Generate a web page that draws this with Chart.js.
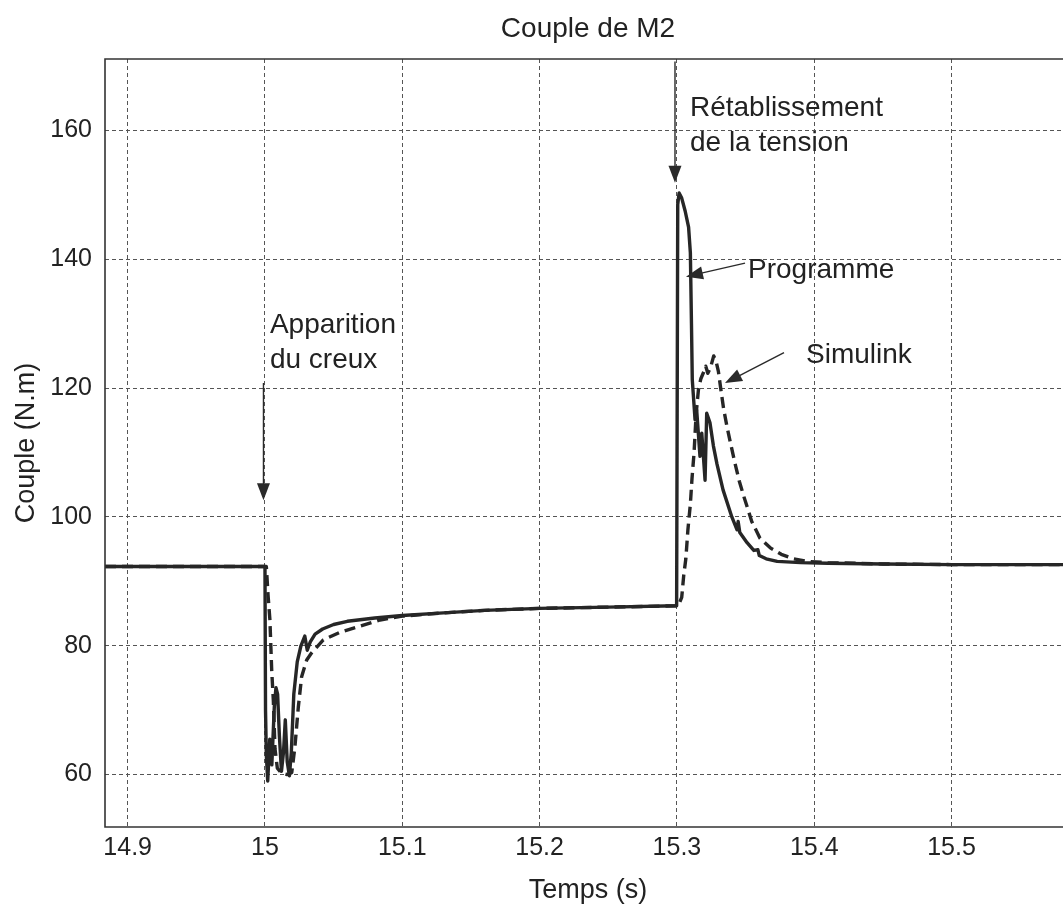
<!DOCTYPE html>
<html lang="fr">
<head>
<meta charset="utf-8">
<title>Couple de M2</title>
<script src="https://cdn.jsdelivr.net/npm/chart.js@4.4.1/dist/chart.umd.min.js"></script>
<style>
  html, body { margin: 0; padding: 0; background: #fff; overflow: hidden; }
  canvas { display: block; }
</style>
</head>
<body>
<canvas id="couple" width="1176" height="907"></canvas>
<script>
// Axis ticks
const xTicks = [14.9, 15.0, 15.1, 15.2, 15.3, 15.4, 15.5];
const yTicks = [60, 80, 100, 120, 140, 160];

// Couple de M2 calculé par le programme (s, N.m)
const progTime = [
  14.8835, 15.0000, 15.0004, 15.0010, 15.0020, 15.0035, 15.0050, 15.0068, 15.0080, 15.0092,
  15.0105, 15.0120, 15.0135, 15.0148, 15.0162, 15.0178, 15.0192, 15.0210, 15.0235, 15.0262,
  15.0290, 15.0308, 15.0330, 15.0365, 15.0420, 15.0500, 15.0600, 15.0800, 15.1000, 15.1300,
  15.1600, 15.2000, 15.2500, 15.2998, 15.3006, 15.3016, 15.3035, 15.3060, 15.3085, 15.3098,
  15.3106, 15.3112, 15.3132, 15.3144, 15.3168, 15.3181, 15.3205, 15.3217, 15.3241, 15.3266,
  15.3292, 15.3336, 15.3400, 15.3438, 15.3446, 15.3458, 15.3511, 15.3560, 15.3590, 15.3600,
  15.3650, 15.3730, 15.3900, 15.4100, 15.4500, 15.5000, 15.5870
];
const progTorque = [
  92.3, 92.3, 70.0, 63.0, 59.0, 65.5, 61.5, 70.5, 73.5, 72.5,
  66.0, 60.5, 63.5, 68.5, 62.0, 59.8, 63.5, 72.5, 77.5, 80.0,
  81.5, 79.3, 80.6, 81.8, 82.6, 83.3, 83.8, 84.3, 84.7, 85.1,
  85.5, 85.8, 86.0, 86.2, 148.5, 150.3, 149.5, 147.5, 145.0, 141.0,
  130.0, 121.3, 115.1, 116.6, 109.4, 113.0, 105.7, 116.1, 114.6, 111.0,
  108.2, 104.2, 100.0, 98.0, 99.3, 97.6, 96.0, 94.8, 94.9, 94.0,
  93.5, 93.1, 92.9, 92.8, 92.7, 92.6, 92.6
];

// Couple de M2 obtenu sous Simulink (s, N.m)
const simTime = [
  14.8835, 15.0010, 15.0022, 15.0036, 15.0049, 15.0061, 15.0073, 15.0090, 15.0120, 15.0160,
  15.0195, 15.0218, 15.0243, 15.0267, 15.0304, 15.0340, 15.0425, 15.0546, 15.0668, 15.0838,
  15.1000, 15.1300, 15.1600, 15.2000, 15.2500, 15.3010, 15.3035, 15.3050, 15.3065, 15.3080,
  15.3098, 15.3110, 15.3125, 15.3140, 15.3157, 15.3175, 15.3195, 15.3210, 15.3225, 15.3245,
  15.3268, 15.3285, 15.3302, 15.3322, 15.3340, 15.3365, 15.3390, 15.3420, 15.3455, 15.3490,
  15.3545, 15.3605, 15.3680, 15.3760, 15.3850, 15.3950, 15.4100, 15.4500, 15.5000, 15.5870
];
const simTorque = [
  92.3, 92.3, 88.0, 84.0, 76.2, 71.5, 64.0, 61.0, 60.2, 60.0,
  60.3, 64.3, 70.5, 75.2, 77.8, 78.9, 80.9, 82.1, 82.9, 84.0,
  84.6, 85.1, 85.5, 85.8, 86.0, 86.2, 87.5, 91.0, 93.5, 98.0,
  102.0, 106.0, 110.0, 116.0, 119.8, 121.5, 122.5, 123.4, 122.3, 123.2,
  125.0, 124.2, 122.6, 119.5, 116.8, 114.0, 111.5, 108.6, 105.5, 103.0,
  99.3, 96.7, 95.2, 94.2, 93.5, 93.1, 92.9, 92.7, 92.6, 92.6
];

// Annotation texts, anchored in data units (left edge, first baseline)
const notes = [
  { lines: ['Apparition', 'du creux'], t: 15.0036, v: 128.6 },
  { lines: ['Rétablissement', 'de la tension'], t: 15.3095, v: 162.2 },
  { lines: ['Programme'], t: 15.3518, v: 137.1 },
  { lines: ['Simulink'], t: 15.3940, v: 123.9 }
];
// Arrows, from tail to tip, in data units
const arrows = [
  { from: [14.9989, 120.8], to: [14.9989, 102.6] },
  { from: [15.2986, 170.7], to: [15.2986, 151.9] },
  { from: [15.3496, 139.4], to: [15.3066, 137.3] },
  { from: [15.3780, 125.5], to: [15.3350, 120.8] }
];

const FONT = '"Liberation Sans", Arial, Helvetica, sans-serif';
const INK = '#222';
const LINE = '#262626';

const toPoints = (ts, vs) => ts.map((t, i) => ({ x: t, y: vs[i] }));

function drawArrow(ctx, x0, y0, x1, y1) {
  const a = Math.atan2(y1 - y0, x1 - x0);
  const L = 17, W = 6.5;
  const c = Math.cos(a), s = Math.sin(a);
  ctx.beginPath();
  ctx.moveTo(x0, y0);
  ctx.lineTo(x1 - L * 0.8 * c, y1 - L * 0.8 * s);
  ctx.stroke();
  ctx.beginPath();
  ctx.moveTo(x1, y1);
  ctx.lineTo(x1 - L * c + W * s, y1 - L * s - W * c);
  ctx.lineTo(x1 - L * c - W * s, y1 - L * s + W * c);
  ctx.closePath();
  ctx.fill();
}

// Axes frame, title, arrows and text notes
const decorations = {
  id: 'decorations',
  afterDatasetsDraw(chart) {
    const { ctx, chartArea: a, scales: { x, y } } = chart;
    ctx.save();
    ctx.strokeStyle = '#333';
    ctx.lineWidth = 1.6;
    ctx.beginPath();
    ctx.moveTo(a.right, a.top);
    ctx.lineTo(a.left, a.top);
    ctx.lineTo(a.left, a.bottom);
    ctx.lineTo(a.right, a.bottom);
    ctx.lineTo(a.right, a.top);
    ctx.stroke();

    ctx.strokeStyle = '#2a2a2a';
    ctx.fillStyle = '#2a2a2a';
    ctx.lineWidth = 1.4;
    arrows.forEach(ar => {
      drawArrow(ctx,
        x.getPixelForValue(ar.from[0]), y.getPixelForValue(ar.from[1]),
        x.getPixelForValue(ar.to[0]), y.getPixelForValue(ar.to[1]));
    });

    ctx.fillStyle = INK;
    ctx.font = '28px ' + FONT;
    ctx.textAlign = 'left';
    ctx.textBaseline = 'alphabetic';
    notes.forEach(n => {
      const px = x.getPixelForValue(n.t);
      const py = y.getPixelForValue(n.v);
      n.lines.forEach((s, i) => ctx.fillText(s, px, py + i * 35));
    });

    ctx.textAlign = 'center';
    ctx.fillText('Couple de M2', (a.left + a.right) / 2, a.top - 22);
    ctx.restore();
  }
};

new Chart(document.getElementById('couple'), {
  type: 'line',
  data: {
    datasets: [
      {
        label: 'Programme',
        data: toPoints(progTime, progTorque),
        borderColor: LINE,
        borderWidth: 3.4,
        borderJoinStyle: 'round',
        pointRadius: 0,
        tension: 0,
        fill: false
      },
      {
        label: 'Simulink',
        data: toPoints(simTime, simTorque),
        borderColor: LINE,
        borderWidth: 3.4,
        borderDash: [11, 6],
        borderJoinStyle: 'round',
        pointRadius: 0,
        tension: 0,
        fill: false
      }
    ]
  },
  options: {
    responsive: false,
    animation: false,
    events: [],
    layout: { padding: { top: 59, right: 105, bottom: 0, left: 0 } },
    plugins: {
      legend: { display: false },
      tooltip: { enabled: false },
      title: { display: false }
    },
    scales: {
      x: {
        type: 'linear',
        min: 14.8835,
        max: 15.587,
        afterBuildTicks: s => { s.ticks = xTicks.map(v => ({ value: v })); },
        afterFit: s => { s.height = 80; },
        grid: { color: '#555', lineWidth: 1, drawTicks: false },
        border: { display: false, dash: [4, 3] },
        ticks: {
          font: { family: FONT, size: 25 },
          color: INK,
          padding: 6,
          maxRotation: 0,
          callback: v => String(Math.round(v * 10) / 10)
        },
        title: {
          display: true,
          text: 'Temps (s)',
          font: { family: FONT, size: 27 },
          color: INK,
          padding: { top: 0, bottom: 0 }
        }
      },
      y: {
        type: 'linear',
        min: 51.86,
        max: 171.1,
        afterBuildTicks: s => { s.ticks = yTicks.map(v => ({ value: v })); },
        afterFit: s => { s.width = 105; },
        grid: { color: '#555', lineWidth: 1, drawTicks: false },
        border: { display: false, dash: [4, 3] },
        ticks: {
          font: { family: FONT, size: 25 },
          color: INK,
          padding: 13,
          callback: v => String(v)
        },
        title: {
          display: true,
          text: 'Couple (N.m)',
          font: { family: FONT, size: 27 },
          color: INK,
          padding: { top: 10, bottom: 0 }
        }
      }
    }
  },
  plugins: [decorations]
});
</script>
</body>
</html>
